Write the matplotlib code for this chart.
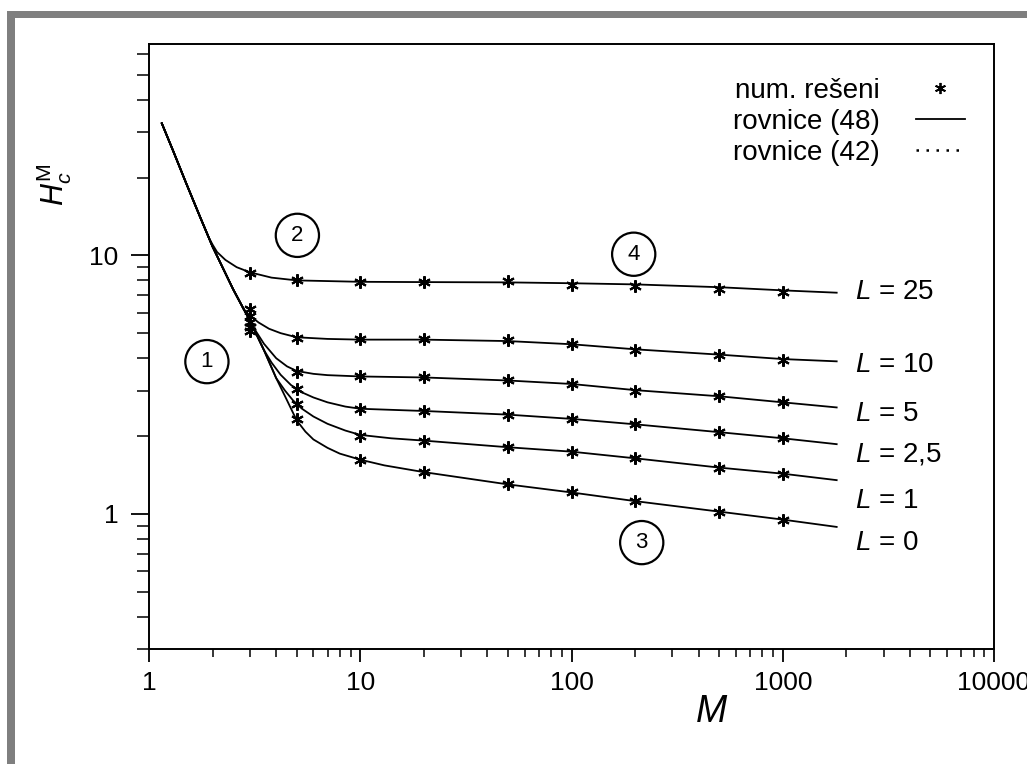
import matplotlib
matplotlib.use('Agg')
import matplotlib.pyplot as plt
from matplotlib.lines import Line2D
from matplotlib.patches import Rectangle
from matplotlib.ticker import LogLocator, NullFormatter

plt.rcParams['font.family'] = ['Liberation Sans', 'DejaVu Sans']
plt.rcParams['mathtext.fontset'] = 'custom'
plt.rcParams['mathtext.rm'] = 'Liberation Sans'
plt.rcParams['mathtext.it'] = 'Liberation Sans:italic'

# curve names, top to bottom
L_values = [25, 10, 5, 2.5, 1, 0]
L_labels = ['25', '10', '5', '2,5', '1', '0']

# numerical solution (stars)
M_num = [3, 5, 10, 20, 50, 100, 200, 500, 1000]
H_num_25 = [8.57, 8.0, 7.88, 7.88, 7.93, 7.65, 7.6, 7.4, 7.2]
H_num_10 = [6.2, 4.78, 4.73, 4.73, 4.69, 4.55, 4.32, 4.12, 3.95]
H_num_5 = [5.8, 3.53, 3.40, 3.38, 3.28, 3.18, 3.00, 2.85, 2.70]
H_num_2_5 = [5.5, 3.05, 2.54, 2.51, 2.42, 2.33, 2.22, 2.07, 1.96]
H_num_1 = [5.3, 2.65, 2.0, 1.92, 1.81, 1.74, 1.64, 1.51, 1.43]
H_num_0 = [5.1, 2.33, 1.62, 1.45, 1.30, 1.21, 1.12, 1.02, 0.95]

# common steep part of equation (48)
M_steep = [1.15, 1.3, 1.5, 1.75, 2.0, 2.5, 3.0, 3.5, 4.0, 4.5, 5.0]
H_steep = [32.4, 25.4, 19.0, 14.0, 10.8, 7.4, 5.6, 4.3, 3.35, 2.75, 2.3]

# branches of equation (48) for each L
M_eq_25 = [1.93, 2.0, 2.1, 2.3, 2.6, 3.0, 3.8, 5, 10, 20, 50, 100, 200, 500, 1000, 1800]
H_eq_25 = [11.6, 11.0, 10.3, 9.6, 9.0, 8.6, 8.2, 8.0, 7.9, 7.88, 7.86, 7.8, 7.72, 7.53, 7.32, 7.17]
M_eq_10 = [2.8, 3.0, 3.3, 3.7, 4.2, 5, 7, 10, 20, 50, 100, 200, 500, 1000, 1800]
H_eq_10 = [6.2, 5.85, 5.5, 5.2, 5.0, 4.82, 4.75, 4.72, 4.72, 4.66, 4.53, 4.33, 4.13, 3.97, 3.89]
M_eq_5 = [3.2, 3.5, 4.0, 4.5, 5, 6, 7, 10, 20, 50, 100, 200, 500, 1000, 1800]
H_eq_5 = [5.1, 4.55, 4.0, 3.72, 3.57, 3.48, 3.44, 3.40, 3.37, 3.28, 3.18, 3.01, 2.85, 2.70, 2.58]
M_eq_2_5 = [3.8, 4.2, 4.7, 5.3, 6, 7, 8.5, 10, 20, 50, 100, 200, 500, 1000, 1800]
H_eq_2_5 = [3.85, 3.45, 3.15, 2.95, 2.82, 2.7, 2.6, 2.55, 2.5, 2.42, 2.33, 2.22, 2.07, 1.96, 1.86]
M_eq_1 = [4.4, 4.8, 5.3, 6, 7, 8.5, 10, 14, 20, 50, 100, 200, 500, 1000, 1800]
H_eq_1 = [3.0, 2.75, 2.55, 2.38, 2.23, 2.1, 2.02, 1.96, 1.92, 1.81, 1.74, 1.64, 1.51, 1.43, 1.35]
M_eq_0 = [5.5, 6, 7, 8, 10, 13, 20, 50, 100, 200, 500, 1000, 1800]
H_eq_0 = [2.08, 1.94, 1.8, 1.71, 1.62, 1.54, 1.45, 1.30, 1.21, 1.12, 1.02, 0.95, 0.89]

H_num = [H_num_25, H_num_10, H_num_5, H_num_2_5, H_num_1, H_num_0]
M_eq = [M_eq_25, M_eq_10, M_eq_5, M_eq_2_5, M_eq_1, M_eq_0]
H_eq = [H_eq_25, H_eq_10, H_eq_5, H_eq_2_5, H_eq_1, H_eq_0]

# label positions
label_H = [7.19, 3.76, 2.44, 1.69, 1.12, 0.772]
region_names = ['1', '2', '3', '4']
region_M = [1.88, 5.04, 215, 197]
region_H = [3.88, 11.95, 0.774, 10.1]

W, H = 1027, 764
fig = plt.figure(figsize=(W / 100, H / 100), dpi=100)
ax = fig.add_axes([149 / W, 1 - 649 / H, (994 - 149) / W, (649 - 43.5) / H])

for mb, hb, hn in zip(M_eq, H_eq, H_num):
    xs = [m for m in M_steep if m < mb[0]] + mb
    ys = [h for m, h in zip(M_steep, H_steep) if m < mb[0]] + hb
    ax.plot(xs, ys, color='black', lw=1.3)
    ax.plot(M_num, hn, ls='none', marker=(6, 2, 0), ms=9, mew=1.5,
            color='black')

ax.set_xscale('log')
ax.set_yscale('log')
ax.set_xlim(1, 10000)
ax.set_ylim(0.3, 66)

ax.set_xticks([1, 10, 100, 1000, 10000])
ax.set_xticklabels(['1', '10', '100', '1000', '10000'])
ax.set_yticks([1, 10])
ax.set_yticklabels(['1', '10'])
ax.xaxis.set_minor_locator(LogLocator(base=10, subs=range(2, 10)))
ax.yaxis.set_minor_locator(LogLocator(base=10, subs=range(2, 10)))
ax.xaxis.set_minor_formatter(NullFormatter())
ax.yaxis.set_minor_formatter(NullFormatter())

ax.tick_params(axis='x', which='major', direction='out', length=9, width=1.3,
               labelsize=19, pad=7)
ax.tick_params(axis='x', which='minor', direction='out', length=6, width=1.1)
ax.tick_params(axis='y', which='major', direction='out', length=13, width=1.3,
               labelsize=19, pad=9)
ax.tick_params(axis='y', which='minor', direction='out', length=9, width=1.1)
for s in ax.spines.values():
    s.set_linewidth(1.4)

for lab, hy in zip(L_labels, label_H):
    ax.text(2200, hy, r'$L$ = ' + lab, fontsize=20, va='center', ha='left')

for name, mx, hy in zip(region_names, region_M, region_H):
    ax.text(mx, hy, name, fontsize=16, ha='center', va='center',
            bbox=dict(boxstyle='circle,pad=0.5', fc='white', ec='black', lw=1.6))

handles = [
    Line2D([], [], ls='none', marker=(6, 2, 0), ms=8, mew=1.3, color='black'),
    Line2D([], [], ls='-', lw=1.3, color='black'),
    Line2D([], [], ls=(0, (1, 3)), lw=1.8, color='black'),
]
ax.legend(handles, ['num. rešeni', 'rovnice (48)', 'rovnice (42)'],
          loc='upper left', bbox_to_anchor=(733 / W, 1 - 78 / H),
          bbox_transform=fig.transFigure, frameon=False, fontsize=20,
          markerfirst=False, labelspacing=0.18, handlelength=1.75,
          handletextpad=1.3, borderpad=0, borderaxespad=0)

fig.text(712 / W, 1 - 712 / H, r'$M$', fontsize=27, ha='center', va='center')
fig.text(54 / W, 1 - 185 / H, r'$H_c^{\mathrm{M}}$', fontsize=22, rotation=90,
         ha='center', va='center')

# grey frame of the original scan
fig.add_artist(Rectangle((7 / W, 0), 8 / W, 1 - 11 / H, transform=fig.transFigure,
                         color='#7f7f7f', lw=0))
fig.add_artist(Rectangle((7 / W, 1 - 18 / H), 1, 7 / H, transform=fig.transFigure,
                         color='#7f7f7f', lw=0))

fig.savefig('out.png', dpi=100)
